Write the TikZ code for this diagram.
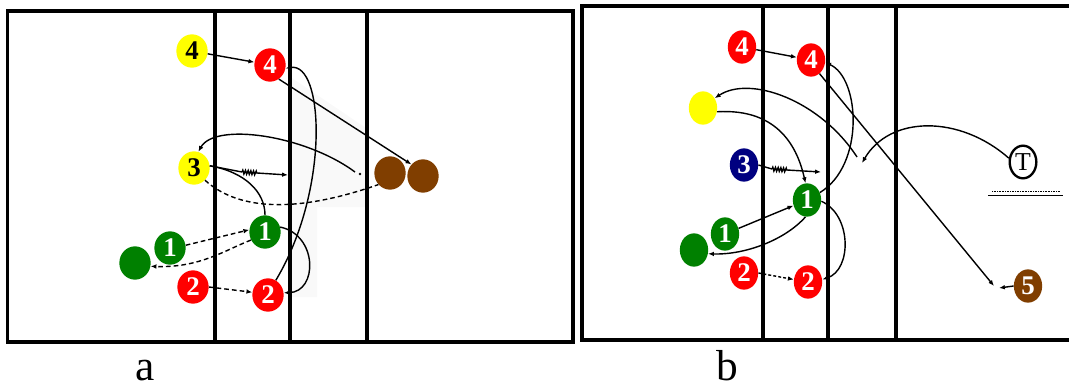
\documentclass[tikz,border=0pt]{standalone}
\usepackage{fontspec}
\setmainfont{Liberation Serif}
\usetikzlibrary{arrows.meta,decorations.pathmorphing,shapes.geometric}
\definecolor{cred}{RGB}{255,0,0}
\definecolor{cyel}{RGB}{255,255,0}
\definecolor{cgrn}{RGB}{0,128,0}
\definecolor{cblu}{RGB}{0,0,128}
\definecolor{cbrn}{RGB}{128,62,0}
\begin{document}
\begin{tikzpicture}[x=0.03cm,y=-0.03cm,
  pl/.style={ellipse,inner sep=0pt,minimum width=0.94cm,minimum height=1.0cm,
    font=\fontsize{23}{23}\selectfont\bfseries,text=white},
  pr/.style={pl,minimum width=0.85cm,minimum height=1.0cm},
  court/.style={line width=2.6pt},
  mid/.style={line width=3.5pt},
  con/.style={line width=1.2pt},
  arr/.style={con,-{Latex[length=5pt,width=4pt]}},
  dsh/.style={con,dash pattern=on 4pt off 2.6pt},
  dot/.style={con,dash pattern=on 2.5pt off 1.8pt},
  zz/.style={con,decorate,decoration={zigzag,amplitude=1.6pt,segment length=2.3pt}},
  lab/.style={font=\fontsize{37}{37}\selectfont,inner sep=0pt},
]
\useasboundingbox (0,0) rectangle (1069,389);
% faint shading
\fill[black!2.5] (292,78) -- (366,128) -- (366,207) -- (317,207) -- (317,297) -- (292,297) -- cycle;
% left court
\draw[court] (7.5,11) rectangle (573,342);
\draw[court] (215,11) -- (215,342);
\draw[mid] (290,11) -- (290,342);
\draw[court] (367,11) -- (367,342);
% right court
\draw[court] (1069,6) -- (582,6) -- (582,340) -- (1069,340);
\draw[court] (763,6) -- (763,340);
\draw[mid] (828,6) -- (828,340);
\draw[court] (896,6) -- (896,340);

% ---------- panel a ----------
\node[pl,fill=cyel,text=black] (y4) at (192,51) {4};
\node[pl,fill=cred] (r4a) at (270,65) {4};
\node[pl,fill=cyel,text=black] (y3) at (194,168) {3};
\node[pl,fill=cbrn] (b1) at (390,173) {};
\node[pl,fill=cbrn] (b2) at (423,176) {};
\node[pl,fill=cgrn] (g1u) at (265,232) {1};
\node[pl,fill=cgrn] (g1l) at (170,248) {1};
\node[pl,fill=cgrn] (g0) at (135,263) {};
\node[pl,fill=cred] (r2l) at (193,287) {2};
\node[pl,fill=cred] (r2r) at (268,295) {2};

\coordinate (za1) at (242,172);
\coordinate (za2) at (257,173);
\coordinate (za3) at (288,175);
\coordinate (da) at (360,174);
\coordinate (das) at (355,172);

\draw[arr] (y4) -- (r4a);
\draw[arr] (r4a.-58) -- (b2.135);
\draw[arr] (r2r.62) .. controls (330,190) and (324,62) .. (r4a.-12);
\draw[arr] (g1u.18) .. controls (318,235) and (318,292) .. (r2r.8);
\draw[con] (y3.8) -- (za1);
\draw[zz] (za1) -- (za2);
\draw[arr] (za2) -- (za3);
\draw[con] (y3.8) .. controls (245,172) and (265,192) .. (g1u.north);
\fill (da) circle (1.3);
\draw[arr] (das) .. controls (305,135) and (215,122) .. (y3.75);
\draw[dsh] (y3.-48) .. controls (240,212) and (300,212) .. (b1.-135);
\draw[dsh,-{Latex[length=5pt,width=4pt]}] (g1l.10) -- (g1u.172);
\draw[dsh,-{Latex[length=5pt,width=4pt]}] (g1u.-150) .. controls (225,250) and (200,268) .. (g0.-12);
\draw[dsh,-{Latex[length=5pt,width=4pt]}] (r2l.east) -- (r2r.170);

% ---------- panel b ----------
\node[pr,fill=cred] (r4l) at (742,47) {4};
\node[pr,fill=cred] (r4r) at (811,60) {4};
\node[pr,fill=cyel] (yb) at (703,108) {};
\node[pr,fill=cblu] (bl3) at (744,165) {3};
\node[pr,fill=cgrn] (g1r) at (807,200) {1};
\node[pr,fill=cgrn] (g1lb) at (725,234) {1};
\node[pr,fill=cgrn] (g0b) at (694,250) {};
\node[pr,fill=cred] (r2lb) at (744,273) {2};
\node[pr,fill=cred] (r2rb) at (808,282) {2};
\node[pr,fill=cbrn] (b5) at (1028,286) {5};
\node[ellipse,draw,line width=2pt,inner sep=0pt,minimum width=0.8cm,minimum height=0.98cm,
  font=\fontsize{22}{22}\selectfont] (t) at (1023,162) {T};

\coordinate (q1) at (994,286);
\coordinate (q2) at (999,288);
\coordinate (pb) at (857,157);
\coordinate (pt) at (862,163);
\coordinate (zb1) at (772,169);
\coordinate (zb2) at (787,170);
\coordinate (zb3) at (821,172);
\coordinate (u1) at (988,195.5);
\coordinate (u2) at (1063,195.5);
\coordinate (v1) at (992,191.5);
\coordinate (v2) at (1060,191.5);

\draw[arr] (r4l) -- (r4r);
\draw[arr] (r4r.-58) -- (q1);
\draw[arr] (b5.west) -- (q2);
\draw[arr] (g1r.30) .. controls (865,165) and (860,78) .. (r4r.-10);
\draw[arr] (g1r.-5) .. controls (852,215) and (852,270) .. (r2rb.10);
\draw[arr] (yb.-15) .. controls (780,108) and (798,150) .. (g1r.95);
\draw[arr] (pb) .. controls (820,100) and (750,75) .. (yb.40);
\draw[arr] (t.165) .. controls (960,115) and (890,115) .. (pt);
\draw[con] (bl3.east) -- (zb1);
\draw[zz] (zb1) -- (zb2);
\draw[arr] (zb2) -- (zb3);
\draw[arr] (g1lb) -- (g1r);
\draw[arr] (g1r.-95) .. controls (785,240) and (745,255) .. (g0b.-15);
\draw[dot,-{Latex[length=5pt,width=4pt]}] (r2lb.east) -- (r2rb.170);
\draw[line width=1.4pt] (u1) -- (u2);
\draw[line width=1.6pt,dash pattern=on 0.6pt off 0.8pt] (v1) -- (v2);

% labels
\node[lab,anchor=base] (la) at (145,380) {a};
\node[lab,anchor=base] (lb) at (727,380) {b};
\end{tikzpicture}
\end{document}
